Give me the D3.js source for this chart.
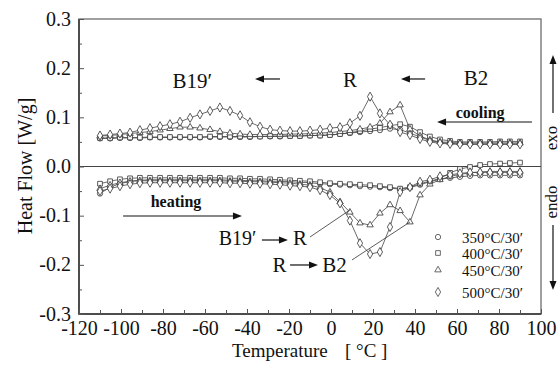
<!DOCTYPE html>
<html>
<head>
<meta charset="utf-8">
<script src="https://cdn.jsdelivr.net/npm/d3@7"></script>
<style>
  body { margin: 0; background: #fff; }
  text { font-family: "Liberation Serif", "DejaVu Serif", serif; fill: #111; }
</style>
</head>
<body>
<svg id="chart" width="560" height="369"></svg>
<script>
// temperatures of the measured points (°C)
const temps = [-110.0, -105.2, -100.5, -95.7, -91.0, -86.2, -81.4, -76.7, -71.9, -67.1, -62.4,
    -57.6, -52.9, -48.1, -43.3, -38.6, -33.8, -29.0, -24.3, -19.5, -14.8, -10.0, -5.2, -0.5,
    4.3, 9.0, 13.8, 18.6, 23.3, 28.1, 32.9, 37.6, 42.4, 47.1, 51.9, 56.7, 61.4, 66.2, 71.0,
    75.7, 80.5, 85.2, 90.0];

// cooling branch (W/g)
const cool350 = [.057,.057,.058,.058,.058,.059,.059,.059,.059,.059,.059,.060,.060,.060,.060,.060,
    .061,.061,.061,.062,.062,.063,.063,.064,.066,.068,.070,.072,.074,.077,.075,.068,.060,.053,
    .049,.047,.046,.046,.046,.046,.046,.046,.046];
const cool400 = [.058,.058,.059,.059,.059,.060,.060,.060,.060,.060,.060,.061,.061,.061,.061,.061,
    .061,.062,.062,.062,.062,.063,.063,.064,.066,.069,.072,.076,.079,.083,.086,.081,.070,.061,
    .055,.052,.050,.050,.050,.050,.051,.051,.051];
const cool450 = [.062,.063,.065,.067,.069,.071,.074,.077,.080,.080,.078,.075,.071,.068,.066,.065,
    .065,.065,.065,.066,.066,.067,.068,.069,.071,.073,.076,.080,.088,.111,.125,.076,.062,.054,
    .050,.049,.048,.048,.048,.048,.048,.048,.048];
const cool500 = [.063,.065,.067,.069,.074,.078,.082,.086,.091,.099,.106,.113,.120,.113,.104,.090,
    .081,.075,.073,.072,.072,.073,.075,.078,.080,.088,.103,.142,.108,.085,.070,.064,.056,.050,
    .047,.046,.045,.045,.045,.045,.045,.045,.045];

// heating branch (W/g)
const heat350 = [-.055,-.042,-.035,-.030,-.028,-.027,-.027,-.027,-.027,-.027,-.027,-.027,-.027,
    -.028,-.028,-.029,-.029,-.030,-.030,-.031,-.032,-.033,-.035,-.036,-.037,-.038,-.040,-.041,
    -.042,-.044,-.046,-.043,-.037,-.031,-.026,-.023,-.021,-.019,-.018,-.018,-.018,-.018,-.018];
const heat400 = [-.035,-.030,-.026,-.024,-.023,-.023,-.023,-.023,-.023,-.023,-.023,-.023,-.023,
    -.024,-.024,-.025,-.025,-.026,-.027,-.028,-.029,-.030,-.032,-.034,-.035,-.036,-.037,-.038,
    -.040,-.042,-.045,-.042,-.035,-.030,-.024,-.013,-.005,-.001,.003,.005,.006,.007,.008];
const heat450 = [-.045,-.038,-.033,-.030,-.029,-.029,-.029,-.029,-.029,-.029,-.029,-.029,-.029,
    -.030,-.030,-.031,-.031,-.032,-.033,-.034,-.036,-.038,-.043,-.052,-.072,-.093,-.115,-.119,
    -.095,-.078,-.090,-.113,-.058,-.036,-.027,-.020,-.016,-.013,-.011,-.010,-.010,-.010,-.010];
const heat500 = [-.050,-.045,-.040,-.036,-.034,-.033,-.033,-.033,-.033,-.033,-.033,-.033,-.033,
    -.034,-.034,-.035,-.035,-.036,-.037,-.039,-.040,-.042,-.048,-.058,-.075,-.110,-.156,-.178,
    -.174,-.123,-.052,-.042,-.031,-.027,-.020,-.017,-.014,-.012,-.012,-.012,-.012,-.012,-.012];

const seriesNames = ["350°C/30′", "400°C/30′", "450°C/30′", "500°C/30′"];
const xTicks = [-120, -100, -80, -60, -40, -20, 0, 20, 40, 60, 80, 100];
const yTicks = [-0.3, -0.2, -0.1, 0.0, 0.1, 0.2, 0.3];

const serif = "Liberation Serif, DejaVu Serif, serif";
const svg = d3.select("#chart");
const pLeft = 79, pRight = 541, pTop = 19, pBottom = 314;

const x = d3.scaleLinear().domain([-120, 100]).range([pLeft, pRight]);
const y = d3.scaleLinear().domain([-0.3, 0.3]).range([pBottom, pTop]);

// frame
svg.append("rect")
    .attr("x", pLeft).attr("y", pTop)
    .attr("width", pRight - pLeft).attr("height", pBottom - pTop)
    .attr("fill", "none").attr("stroke", "#777").attr("stroke-width", 1.4);
svg.append("path")
    .attr("d", `M${pLeft},${pTop}V${pBottom}H${pRight}`)
    .attr("fill", "none").attr("stroke", "#333").attr("stroke-width", 1.5);

// zero line
svg.append("line")
    .attr("x1", pLeft).attr("x2", pRight)
    .attr("y1", y(0)).attr("y2", y(0))
    .attr("stroke", "#444").attr("stroke-width", 1.2);

// axes, ticks pointing inwards
const yAxisG = svg.append("g").attr("transform", `translate(${pLeft},0)`)
    .call(d3.axisLeft(y).tickValues(yTicks).tickSize(-5).tickPadding(8)
        .tickFormat(d => d.toFixed(1)));
svg.append("g").attr("transform", `translate(${pLeft},0)`)
    .call(d3.axisLeft(y).tickValues([-0.25, -0.15, -0.05, 0.05, 0.15, 0.25]).tickSize(-3).tickFormat(""));

const xAxisG = svg.append("g").attr("transform", `translate(0,${pBottom})`)
    .call(d3.axisBottom(x).tickValues(xTicks).tickSize(-5).tickPadding(7)
        .tickFormat(d => String(d)));
svg.append("g").attr("transform", `translate(0,${pBottom})`)
    .call(d3.axisBottom(x).tickValues([-110, -90, -70, -50, -30, -10, 10, 30, 50, 70, 90])
        .tickSize(-4).tickFormat(""));

[yAxisG, xAxisG].forEach(g => g.attr("font-family", serif).attr("font-size", 20));
yAxisG.selectAll(".tick text").attr("dy", "0.3em");
svg.selectAll(".domain").remove();
svg.selectAll(".tick line").attr("stroke", "#555");
svg.selectAll(".tick text").attr("fill", "#111");

// axis titles
svg.append("text")
    .attr("transform", "translate(32,166) rotate(-90)")
    .attr("text-anchor", "middle")
    .attr("font-size", 20)
    .text("Heat Flow  [W/g]");
svg.append("text").attr("x", 232).attr("y", 357).attr("font-size", 19).text("Temperature");
svg.append("text").attr("x", 345).attr("y", 357).attr("font-size", 19).text("[ °C ]");

// data
const symbols = [d3.symbolCircle, d3.symbolSquare, d3.symbolTriangle, d3.symbolDiamond];
const sizes = [22, 22, 18, 24];
const series = [
    {cool: cool350, heat: heat350},
    {cool: cool400, heat: heat400},
    {cool: cool450, heat: heat450},
    {cool: cool500, heat: heat500}
];

const line = d3.line().x(d => x(d[0])).y(d => y(d[1]));
const plot = svg.append("g");

series.forEach((s, k) => {
    [s.cool, s.heat].forEach(vals => {
        const pts = temps.map((t, i) => [t, vals[i]]);
        plot.append("path").datum(pts)
            .attr("d", line)
            .attr("fill", "none")
            .attr("stroke", "#444")
            .attr("stroke-width", 0.8);
        plot.selectAll(null).data(pts).join("path")
            .attr("transform", d => `translate(${x(d[0])},${y(d[1])})`)
            .attr("d", d3.symbol(symbols[k], sizes[k]))
            .attr("fill", "#fff")
            .attr("stroke", "#333")
            .attr("stroke-width", 0.8);
    });
});

// arrows
function arrow(x1, y1, x2, y2) {
    const len = Math.hypot(x2 - x1, y2 - y1);
    const ux = (x2 - x1) / len, uy = (y2 - y1) / len;
    const hl = 9, hw = 3.5;
    svg.append("line")
        .attr("x1", x1).attr("y1", y1)
        .attr("x2", x2 - ux * hl * 0.6).attr("y2", y2 - uy * hl * 0.6)
        .attr("stroke", "#111").attr("stroke-width", 1.2);
    const bx = x2 - ux * hl, by = y2 - uy * hl;
    svg.append("polygon")
        .attr("points", [[x2, y2], [bx - uy * hw, by + ux * hw], [bx + uy * hw, by - ux * hw]]
            .map(p => p.join(",")).join(" "))
        .attr("fill", "#111");
}

function label(t, v, str, size, weight, anchor) {
    svg.append("text")
        .attr("x", x(t)).attr("y", y(v))
        .attr("font-size", size)
        .attr("font-weight", weight || "normal")
        .attr("text-anchor", anchor || "middle")
        .text(str);
}

// phase annotations (cooling)
label(-66, 0.16, "B19′", 21);
label(9, 0.162, "R", 21);
label(69, 0.166, "B2", 21);
arrow(x(-24.3), y(0.178), x(-36.2), y(0.178));
arrow(x(44.8), y(0.178), x(33.3), y(0.178));
label(71, 0.099, "cooling", 16, "bold");
arrow(x(95.7), y(0.0905), x(50.5), y(0.0905));

// heating
label(-73.8, -0.082, "heating", 16, "bold");
arrow(x(-99), y(-0.1007), x(-42.4), y(-0.1007));

label(-44.5, -0.16, "B19′", 20);
arrow(x(-32.9), y(-0.1495), x(-20.5), y(-0.1495));
label(-14.8, -0.16, "R", 21);
svg.append("line")
    .attr("x1", x(-10)).attr("y1", y(-0.1434))
    .attr("x2", x(9)).attr("y2", y(-0.0885))
    .attr("stroke", "#333").attr("stroke-width", 0.8);

label(-24.5, -0.2146, "R", 21);
arrow(x(-19.5), y(-0.2003), x(-6.2), y(-0.2003));
label(1.7, -0.2146, "B2", 21);
svg.append("line")
    .attr("x1", x(10)).attr("y1", y(-0.19))
    .attr("x2", x(37.6)).attr("y2", y(-0.1129))
    .attr("stroke", "#333").attr("stroke-width", 0.8);

// legend
const legendRows = [237, 253, 270, 292];
seriesNames.forEach((name, k) => {
    svg.append("path")
        .attr("transform", `translate(438,${legendRows[k]})`)
        .attr("d", d3.symbol(symbols[k], sizes[k]))
        .attr("fill", "#fff").attr("stroke", "#444").attr("stroke-width", 0.8);
    svg.append("text")
        .attr("x", 462).attr("y", legendRows[k] + 6)
        .attr("font-size", 15)
        .text(name);
});

// exo / endo
svg.append("text")
    .attr("transform", "translate(557,138) rotate(-90)")
    .attr("text-anchor", "middle").attr("font-size", 17).text("exo");
svg.append("text")
    .attr("transform", "translate(557,202) rotate(-90)")
    .attr("text-anchor", "middle").attr("font-size", 17).text("endo");
arrow(553, 113, 553, 55);
arrow(553, 225, 553, 290);
</script>
</body>
</html>
